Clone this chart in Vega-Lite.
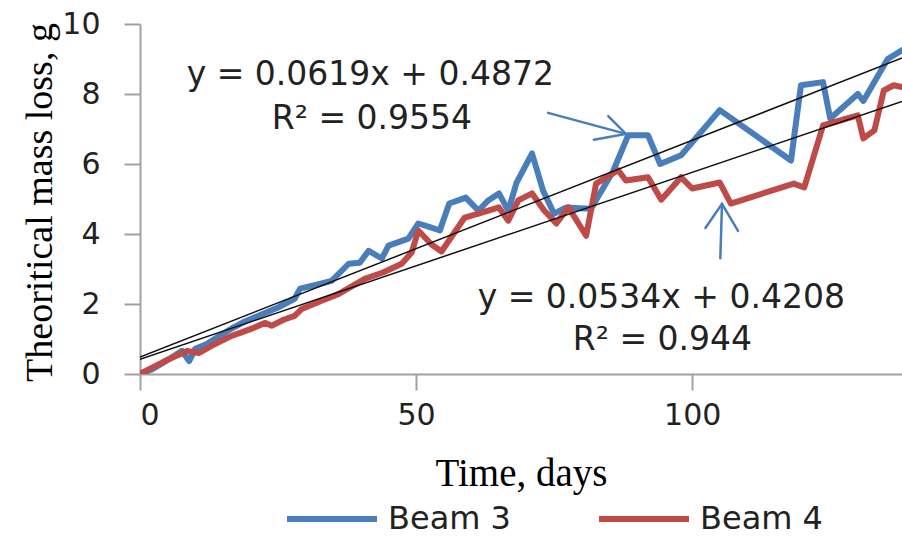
{
  "$schema": "https://vega.github.io/schema/vega-lite/v6.json",
  "width": 762,
  "height": 350,
  "autosize": "none",
  "padding": {"left": 140, "top": 24, "right": 0, "bottom": 166},
  "background": "white",
  "config": {"view": {"stroke": null}, "font": "DejaVu Sans"},
  "datasets": {
    "series": [
      {"day": 0, "value": 0, "series": "Beam 3"},
      {"day": 2, "value": 0.12, "series": "Beam 3"},
      {"day": 4, "value": 0.3, "series": "Beam 3"},
      {"day": 6, "value": 0.5, "series": "Beam 3"},
      {"day": 7.6, "value": 0.66, "series": "Beam 3"},
      {"day": 8.9, "value": 0.37, "series": "Beam 3"},
      {"day": 10, "value": 0.72, "series": "Beam 3"},
      {"day": 12, "value": 0.85, "series": "Beam 3"},
      {"day": 14, "value": 1.05, "series": "Beam 3"},
      {"day": 16.6, "value": 1.3, "series": "Beam 3"},
      {"day": 19, "value": 1.5, "series": "Beam 3"},
      {"day": 22, "value": 1.7, "series": "Beam 3"},
      {"day": 25, "value": 1.9, "series": "Beam 3"},
      {"day": 28, "value": 2.15, "series": "Beam 3"},
      {"day": 29, "value": 2.44, "series": "Beam 3"},
      {"day": 32, "value": 2.55, "series": "Beam 3"},
      {"day": 34.7, "value": 2.66, "series": "Beam 3"},
      {"day": 37.8, "value": 3.15, "series": "Beam 3"},
      {"day": 39.8, "value": 3.18, "series": "Beam 3"},
      {"day": 41.4, "value": 3.52, "series": "Beam 3"},
      {"day": 43.8, "value": 3.3, "series": "Beam 3"},
      {"day": 45, "value": 3.67, "series": "Beam 3"},
      {"day": 48.6, "value": 3.87, "series": "Beam 3"},
      {"day": 50.4, "value": 4.3, "series": "Beam 3"},
      {"day": 52.8, "value": 4.18, "series": "Beam 3"},
      {"day": 54.3, "value": 4.1, "series": "Beam 3"},
      {"day": 56, "value": 4.87, "series": "Beam 3"},
      {"day": 59, "value": 5.04, "series": "Beam 3"},
      {"day": 61.3, "value": 4.67, "series": "Beam 3"},
      {"day": 63, "value": 4.95, "series": "Beam 3"},
      {"day": 65, "value": 5.16, "series": "Beam 3"},
      {"day": 66.7, "value": 4.67, "series": "Beam 3"},
      {"day": 68.2, "value": 5.47, "series": "Beam 3"},
      {"day": 71, "value": 6.3, "series": "Beam 3"},
      {"day": 73, "value": 5.24, "series": "Beam 3"},
      {"day": 75, "value": 4.58, "series": "Beam 3"},
      {"day": 77.2, "value": 4.76, "series": "Beam 3"},
      {"day": 80.5, "value": 4.73, "series": "Beam 3"},
      {"day": 81.7, "value": 4.73, "series": "Beam 3"},
      {"day": 85.7, "value": 5.8, "series": "Beam 3"},
      {"day": 88.4, "value": 6.82, "series": "Beam 3"},
      {"day": 92, "value": 6.82, "series": "Beam 3"},
      {"day": 94.2, "value": 6.0, "series": "Beam 3"},
      {"day": 98, "value": 6.25, "series": "Beam 3"},
      {"day": 105, "value": 7.54, "series": "Beam 3"},
      {"day": 117.9, "value": 6.1, "series": "Beam 3"},
      {"day": 119.7, "value": 8.25, "series": "Beam 3"},
      {"day": 123.7, "value": 8.34, "series": "Beam 3"},
      {"day": 125, "value": 7.3, "series": "Beam 3"},
      {"day": 130, "value": 8.0, "series": "Beam 3"},
      {"day": 131, "value": 7.8, "series": "Beam 3"},
      {"day": 135.4, "value": 9.0, "series": "Beam 3"},
      {"day": 138, "value": 9.25, "series": "Beam 3"},
      {"day": 0, "value": 0, "series": "Beam 4"},
      {"day": 4.5, "value": 0.37, "series": "Beam 4"},
      {"day": 8.5, "value": 0.66, "series": "Beam 4"},
      {"day": 10.7, "value": 0.6, "series": "Beam 4"},
      {"day": 13.5, "value": 0.85, "series": "Beam 4"},
      {"day": 16.6, "value": 1.09, "series": "Beam 4"},
      {"day": 20, "value": 1.28, "series": "Beam 4"},
      {"day": 22.6, "value": 1.46, "series": "Beam 4"},
      {"day": 23.9, "value": 1.38, "series": "Beam 4"},
      {"day": 26, "value": 1.55, "series": "Beam 4"},
      {"day": 28, "value": 1.66, "series": "Beam 4"},
      {"day": 29.3, "value": 1.86, "series": "Beam 4"},
      {"day": 33, "value": 2.1, "series": "Beam 4"},
      {"day": 36, "value": 2.29, "series": "Beam 4"},
      {"day": 40.7, "value": 2.72, "series": "Beam 4"},
      {"day": 44, "value": 2.9, "series": "Beam 4"},
      {"day": 47.4, "value": 3.15, "series": "Beam 4"},
      {"day": 49.2, "value": 3.47, "series": "Beam 4"},
      {"day": 50.4, "value": 4.1, "series": "Beam 4"},
      {"day": 52.8, "value": 3.7, "series": "Beam 4"},
      {"day": 54.6, "value": 3.5, "series": "Beam 4"},
      {"day": 58.8, "value": 4.47, "series": "Beam 4"},
      {"day": 61.3, "value": 4.58, "series": "Beam 4"},
      {"day": 65, "value": 4.76, "series": "Beam 4"},
      {"day": 66.7, "value": 4.38, "series": "Beam 4"},
      {"day": 68.5, "value": 4.96, "series": "Beam 4"},
      {"day": 71, "value": 5.16, "series": "Beam 4"},
      {"day": 73.2, "value": 4.67, "series": "Beam 4"},
      {"day": 75.4, "value": 4.3, "series": "Beam 4"},
      {"day": 77.6, "value": 4.76, "series": "Beam 4"},
      {"day": 80.8, "value": 3.95, "series": "Beam 4"},
      {"day": 82.6, "value": 5.44, "series": "Beam 4"},
      {"day": 86.6, "value": 5.82, "series": "Beam 4"},
      {"day": 88, "value": 5.53, "series": "Beam 4"},
      {"day": 92, "value": 5.62, "series": "Beam 4"},
      {"day": 94.4, "value": 4.98, "series": "Beam 4"},
      {"day": 98, "value": 5.62, "series": "Beam 4"},
      {"day": 100, "value": 5.3, "series": "Beam 4"},
      {"day": 105, "value": 5.47, "series": "Beam 4"},
      {"day": 107, "value": 4.87, "series": "Beam 4"},
      {"day": 118.4, "value": 5.44, "series": "Beam 4"},
      {"day": 120.3, "value": 5.33, "series": "Beam 4"},
      {"day": 123.7, "value": 7.1, "series": "Beam 4"},
      {"day": 130, "value": 7.39, "series": "Beam 4"},
      {"day": 131, "value": 6.73, "series": "Beam 4"},
      {"day": 133, "value": 6.96, "series": "Beam 4"},
      {"day": 134.7, "value": 8.1, "series": "Beam 4"},
      {"day": 136.5, "value": 8.25, "series": "Beam 4"},
      {"day": 138, "value": 8.2, "series": "Beam 4"}
    ],
    "trend": [
      {"day": 0, "value": 0.4872, "fit": "Beam 3"},
      {"day": 138, "value": 9.029, "fit": "Beam 3"},
      {"day": 0, "value": 0.4208, "fit": "Beam 4"},
      {"day": 138, "value": 7.79, "fit": "Beam 4"}
    ],
    "arrows": [
      {"day": 73.9, "value": 7.46, "part": "a1shaft", "ord": 1},
      {"day": 88.0, "value": 6.86, "part": "a1shaft", "ord": 2},
      {"day": 84.8, "value": 7.37, "part": "a1head", "ord": 1},
      {"day": 88.0, "value": 6.86, "part": "a1head", "ord": 2},
      {"day": 82.2, "value": 6.69, "part": "a1head", "ord": 3},
      {"day": 105.1, "value": 3.31, "part": "a2shaft", "ord": 1},
      {"day": 105.4, "value": 4.86, "part": "a2shaft", "ord": 2},
      {"day": 102.4, "value": 4.17, "part": "a2head", "ord": 1},
      {"day": 105.4, "value": 4.86, "part": "a2head", "ord": 2},
      {"day": 108.3, "value": 4.09, "part": "a2head", "ord": 3}
    ],
    "notes": [
      {"day": 41.7, "value": 8.54, "label": "y = 0.0619x + 0.4872"},
      {"day": 42.0, "value": 7.28, "label": "R² = 0.9554"},
      {"day": 94.4, "value": 2.17, "label": "y = 0.0534x + 0.4208"},
      {"day": 94.6, "value": 0.97, "label": "R² = 0.944"}
    ]
  },
  "encoding": {
    "x": {
      "field": "day", "type": "quantitative",
      "scale": {"domain": [0, 138], "nice": false, "zero": false},
      "axis": {
        "values": [0, 50, 100], "grid": false,
        "title": "Time, days", "titleFont": "Liberation Serif", "titleFontSize": 39,
        "titleFontWeight": "normal", "titleColor": "#000", "titleY": 80, "titleBaseline": "top",
        "labelFontSize": 30, "labelColor": "#222", "labelPadding": 10,
        "tickSize": 16, "tickColor": "#a0a0a0", "tickWidth": 2,
        "domainColor": "#a0a0a0", "domainWidth": 2
      }
    },
    "y": {
      "field": "value", "type": "quantitative",
      "scale": {"domain": [0, 10], "nice": false},
      "axis": {
        "values": [0, 2, 4, 6, 8, 10], "grid": false,
        "title": "Theoritical mass loss, g", "titleFont": "Liberation Serif", "titleFontSize": 38,
        "titleFontWeight": "normal", "titleColor": "#000",
        "titleX": -100, "titleY": 178, "titleAngle": -90, "titleAlign": "center", "titleBaseline": "middle",
        "labelFontSize": 30, "labelColor": "#222", "labelPadding": 24,
        "tickSize": 16, "tickColor": "#a0a0a0", "tickWidth": 2,
        "domainColor": "#a0a0a0", "domainWidth": 2
      }
    }
  },
  "layer": [
    {
      "mark": {"type": "rule", "color": "#333", "strokeWidth": 2},
      "encoding": {"y": {"datum": 10}, "x": null}
    },
    {
      "data": {"name": "series"},
      "mark": {"type": "line", "strokeWidth": 6, "strokeJoin": "round", "strokeCap": "round", "clip": true},
      "encoding": {
        "color": {
          "field": "series", "type": "nominal",
          "scale": {"domain": ["Beam 3", "Beam 4"], "range": ["#4a7ebb", "#be4b48"]},
          "legend": {
            "title": null, "orient": "none", "direction": "horizontal",
            "legendX": 144, "legendY": 447,
            "symbolType": "stroke", "symbolSize": 8100, "symbolStrokeWidth": 6,
            "labelFontSize": 32, "labelColor": "#222", "labelOffset": 8,
            "columnPadding": 76, "labelLimit": 300
          }
        }
      }
    },
    {
      "data": {"name": "trend"},
      "mark": {"type": "line", "color": "#111", "strokeWidth": 1.5, "clip": true},
      "encoding": {"detail": {"field": "fit"}}
    },
    {
      "data": {"name": "arrows"},
      "mark": {"type": "line", "color": "#4a7ebb", "strokeWidth": 2.5, "strokeCap": "round"},
      "encoding": {"detail": {"field": "part"}, "order": {"field": "ord"}}
    },
    {
      "data": {"name": "notes"},
      "mark": {"type": "text", "fontSize": 33, "color": "#222", "align": "center", "baseline": "middle"},
      "encoding": {"text": {"field": "label"}}
    }
  ]
}
